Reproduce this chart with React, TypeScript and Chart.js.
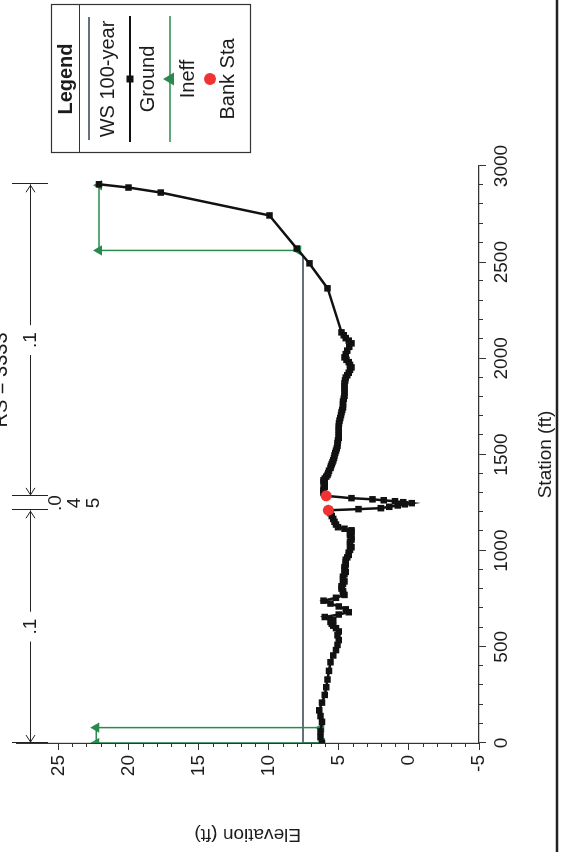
import React, { useEffect, useRef } from 'react';
import { Chart, registerables } from 'chart.js';

Chart.register(...registerables);

// ---------- data ----------
const chartTitle = 'RS = 3333';
const xTitle = 'Station (ft)';
const yTitle = 'Elevation (ft)';
const legendLabels = ['WS 100-year', 'Ground', 'Ineff', 'Bank Sta'];

const stationTicks = [0, 500, 1000, 1500, 2000, 2500, 3000];
const elevTicks = [-5, 0, 5, 10, 15, 20, 25];
const stationMinorStep = 100;
const elevMinorStep = 1;

const groundStation = [
  0, 30, 60, 110, 140, 170, 210, 250, 290, 330, 375, 420, 455, 483,
  510, 535, 560, 580, 597, 610, 620, 630, 640, 655, 668, 680, 695, 710, 725, 740, 755, 770,
  780, 790, 803, 815, 828, 840, 853, 865, 878, 890, 903, 915, 928, 940, 953, 965, 978, 990,
  1004, 1018, 1032, 1045, 1058, 1070, 1080, 1090, 1098, 1106,
  1114, 1122, 1136, 1150, 1165, 1180, 1195, 1210,
  1216, 1221, 1228, 1235, 1241, 1247, 1252, 1257, 1262, 1267, 1273, 1285,
  1292, 1300, 1310, 1320, 1332, 1345, 1355, 1366, 1375, 1385, 1394, 1403,
  1416, 1430, 1440, 1450, 1460, 1470, 1482, 1495, 1508, 1520, 1532, 1545, 1560, 1574, 1587, 1600, 1615, 1630, 1646, 1662,
  1676, 1690, 1705, 1720, 1732, 1745, 1760, 1775, 1790, 1805, 1822, 1840, 1855, 1870, 1885, 1900,
  1912, 1925, 1940, 1953, 1966, 1980, 1992, 2005, 2022, 2040, 2060, 2078, 2092, 2105, 2120, 2135,
  2364, 2494, 2571, 2743, 2862, 2888, 2905,
];
const groundElev = [
  6.2, 6.3, 6.3, 6.2, 6.3, 6.4, 6.2, 6.0, 5.9, 5.8, 5.7, 5.6, 5.4, 5.2,
  5.1, 5.0, 5.1, 5.0, 5.2, 5.4, 5.5, 5.6, 5.4, 6.0, 5.0, 4.3, 4.5, 5.0, 5.6, 6.1, 5.2, 4.6,
  4.7, 4.7, 4.8, 4.8, 4.7, 4.6, 4.7, 4.7, 4.6, 4.5, 4.6, 4.6, 4.5, 4.5, 4.5, 4.4, 4.3, 4.3,
  4.2, 4.1, 4.2, 4.2, 4.1, 4.1, 4.2, 4.2, 4.1, 4.1,
  4.6, 5.05, 5.2, 5.3, 5.4, 5.5, 5.6, 5.75,
  3.6, 2.0, 1.4, 0.8, 0.3, -0.2, 0.4, 1.0, 1.8, 2.6, 4.1, 5.9,
  6.0, 6.1, 6.1, 6.1, 6.0, 6.0, 6.1, 6.1, 6.0, 5.9, 5.8, 5.75,
  5.7, 5.6, 5.55, 5.5, 5.45, 5.4, 5.35, 5.3, 5.25, 5.2, 5.15, 5.1, 5.1, 5.05, 5.0, 5.0, 5.0, 5.0, 5.0, 4.98,
  4.95, 4.9, 4.85, 4.8, 4.75, 4.7, 4.7, 4.7, 4.65, 4.6, 4.6, 4.6, 4.6, 4.6, 4.55, 4.5,
  4.4, 4.3, 4.2, 4.1, 4.2, 4.3, 4.45, 4.6, 4.5, 4.4, 4.25, 4.1, 4.3, 4.5, 4.65, 4.8,
  5.8, 7.1, 8.0, 9.95, 17.7, 20.0, 22.1,
];

const bankStation = [1210, 1285];
const bankElev = [5.75, 5.9];

const wsStation = [0, 0, 2530];
const wsElev = [6.2, 7.55, 7.55];

const ineffStation = [80, 80, 0, 0, null, 2561, 2561, 2900];
const ineffElev = [6.25, 22.3, 22.3, 6.2, null, 7.9, 22.1, 22.1];

const nStations = [0, 1210, 1285, 2905];
const nValues = ['.1', '.045', '.1'];

// ---------- styles ----------
const FONT = '"Liberation Sans", Arial, Helvetica, sans-serif';
const INK = '#1c1c1c';
const WS_COLOR = '#36424f';
const GROUND_COLOR = '#111111';
const INEFF_COLOR = '#2a8a4e';
const BANK_COLOR = '#f03232';

const pts = (xs: (number | null)[], ys: (number | null)[]) =>
  xs.map((x, i) => ({ x, y: ys[i] }));

const decorPlugin = {
  id: 'decor',
  afterDraw(chart: any) {
    const ctx = chart.ctx as CanvasRenderingContext2D;
    const xs = chart.scales.x;
    const ys = chart.scales.y;
    const area = chart.chartArea;
    ctx.save();
    ctx.strokeStyle = '#333';
    ctx.lineWidth = 1;

    // minor ticks
    ctx.beginPath();
    for (let s = stationTicks[0]; s <= stationTicks[stationTicks.length - 1]; s += stationMinorStep) {
      if (stationTicks.includes(s)) continue;
      const p = Math.round(xs.getPixelForValue(s)) + 0.5;
      ctx.moveTo(p, area.bottom);
      ctx.lineTo(p, area.bottom + 4);
    }
    for (let e = elevTicks[0]; e <= elevTicks[elevTicks.length - 1]; e += elevMinorStep) {
      if (elevTicks.includes(e)) continue;
      const p = Math.round(ys.getPixelForValue(e)) + 0.5;
      ctx.moveTo(area.left - 4, p);
      ctx.lineTo(area.left, p);
    }
    ctx.stroke();

    // Manning's n annotation
    const nv = 30;
    ctx.strokeStyle = '#222';
    ctx.fillStyle = INK;
    ctx.font = `19px ${FONT}`;
    ctx.textAlign = 'center';
    ctx.textBaseline = 'middle';
    ctx.beginPath();
    nStations.forEach((s) => {
      const p = Math.round(xs.getPixelForValue(s)) + 0.5;
      ctx.moveTo(p, 12);
      ctx.lineTo(p, 48);
    });
    ctx.stroke();
    for (let i = 0; i < nValues.length; i++) {
      const p0 = xs.getPixelForValue(nStations[i]);
      const p1 = xs.getPixelForValue(nStations[i + 1]);
      const mid = (p0 + p1) / 2;
      const label = nValues[i];
      if (p1 - p0 > 60) {
        const gap = ctx.measureText(label).width / 2 + 7;
        ctx.beginPath();
        ctx.moveTo(p0, nv + 0.5);
        ctx.lineTo(mid - gap, nv + 0.5);
        ctx.moveTo(mid + gap, nv + 0.5);
        ctx.lineTo(p1, nv + 0.5);
        ctx.moveTo(p0 + 8, nv - 4);
        ctx.lineTo(p0 + 1, nv + 0.5);
        ctx.lineTo(p0 + 8, nv + 5);
        ctx.moveTo(p1 - 8, nv - 4);
        ctx.lineTo(p1 - 1, nv + 0.5);
        ctx.lineTo(p1 - 8, nv + 5);
        ctx.stroke();
        ctx.fillText(label, mid, nv + 1);
      } else {
        const lines = [label.slice(0, 2), ...label.slice(2).split('')];
        lines.forEach((t, j) => ctx.fillText(t, mid, 56 + j * 19));
      }
    }

    // title (cut by page edge)
    ctx.font = `20px ${FONT}`;
    ctx.textBaseline = 'alphabetic';
    ctx.fillText(chartTitle, 472, 7);

    // legend
    const L = 699, T = 51, R = 847, B = 250;
    const cx = (L + R) / 2;
    ctx.strokeStyle = '#333';
    ctx.lineWidth = 1.2;
    ctx.strokeRect(L + 0.5, T + 0.5, R - L, B - T);
    ctx.beginPath();
    ctx.moveTo(L, 79.5);
    ctx.lineTo(R, 79.5);
    ctx.stroke();
    ctx.font = `bold 20px ${FONT}`;
    ctx.textBaseline = 'middle';
    ctx.fillText('Legend', cx, 66);

    const lineV = [89, 130, 170, 210];
    const textV = [108, 148, 188, 228];
    // WS
    ctx.strokeStyle = WS_COLOR;
    ctx.lineWidth = 1.5;
    ctx.beginPath();
    ctx.moveTo(L + 13, lineV[0]);
    ctx.lineTo(R - 12, lineV[0]);
    ctx.stroke();
    // Ground
    ctx.strokeStyle = GROUND_COLOR;
    ctx.lineWidth = 2;
    ctx.beginPath();
    ctx.moveTo(L + 11, lineV[1]);
    ctx.lineTo(R - 11, lineV[1]);
    ctx.stroke();
    ctx.fillStyle = GROUND_COLOR;
    ctx.fillRect(cx - 3.5, lineV[1] - 3.5, 7, 7);
    // Ineff
    ctx.strokeStyle = INEFF_COLOR;
    ctx.lineWidth = 1.5;
    ctx.beginPath();
    ctx.moveTo(L + 11, lineV[2]);
    ctx.lineTo(R - 11, lineV[2]);
    ctx.stroke();
    ctx.fillStyle = INEFF_COLOR;
    ctx.beginPath();
    ctx.moveTo(cx, lineV[2] - 7);
    ctx.lineTo(cx + 6.5, lineV[2] + 4);
    ctx.lineTo(cx - 6.5, lineV[2] + 4);
    ctx.closePath();
    ctx.fill();
    // Bank
    ctx.fillStyle = BANK_COLOR;
    ctx.beginPath();
    ctx.arc(cx, lineV[3], 6, 0, Math.PI * 2);
    ctx.fill();

    ctx.fillStyle = INK;
    ctx.font = `20px ${FONT}`;
    legendLabels.forEach((t, i) => ctx.fillText(t, cx, textV[i]));

    // page border of the scan
    ctx.strokeStyle = '#222';
    ctx.lineWidth = 2.5;
    ctx.beginPath();
    ctx.moveTo(0, 557);
    ctx.lineTo(852, 557);
    ctx.stroke();

    ctx.restore();
  },
};

export default function App() {
  const canvasRef = useRef<HTMLCanvasElement | null>(null);

  useEffect(() => {
    if (!canvasRef.current) return;
    const tickFont = { family: FONT, size: 19 };
    const chart = new Chart(canvasRef.current, {
      type: 'scatter',
      data: {
        datasets: [
          {
            label: legendLabels[3],
            data: pts(bankStation, bankElev),
            showLine: false,
            pointStyle: 'circle',
            pointRadius: 5.5,
            backgroundColor: BANK_COLOR,
            borderColor: BANK_COLOR,
            borderWidth: 0,
          },
          {
            label: legendLabels[1],
            data: pts(groundStation, groundElev),
            showLine: true,
            borderColor: GROUND_COLOR,
            borderWidth: 2.5,
            pointStyle: 'rect',
            pointRadius: 4.6,
            backgroundColor: GROUND_COLOR,
            pointBorderWidth: 0,
          },
          {
            label: legendLabels[2],
            data: pts(ineffStation, ineffElev),
            showLine: true,
            spanGaps: false,
            borderColor: INEFF_COLOR,
            borderWidth: 1.5,
            pointStyle: 'triangle',
            pointRadius: 6,
            backgroundColor: INEFF_COLOR,
            pointBorderWidth: 0,
          },
          {
            label: legendLabels[0],
            data: pts(wsStation, wsElev),
            showLine: true,
            borderColor: WS_COLOR,
            borderWidth: 1.5,
            pointRadius: 0,
          },
        ],
      },
      options: {
        responsive: false,
        maintainAspectRatio: false,
        devicePixelRatio: 1,
        animation: false,
        layout: { padding: { top: 10, right: 166, left: 0, bottom: 0 } },
        plugins: {
          legend: { display: false },
          tooltip: { enabled: false },
          title: { display: false },
        },
        scales: {
          x: {
            type: 'linear',
            position: 'bottom',
            min: stationTicks[0],
            max: stationTicks[stationTicks.length - 1],
            afterBuildTicks: (scale: any) => {
              scale.ticks = stationTicks.map((v) => ({ value: v }));
            },
            afterFit: (scale: any) => {
              scale.height = 85;
            },
            ticks: {
              font: tickFont,
              color: INK,
              padding: 4,
              maxRotation: 0,
              autoSkip: false,
              callback: (v: any) => String(v),
            },
            grid: {
              drawOnChartArea: false,
              drawTicks: true,
              tickLength: 7,
              tickColor: '#333',
            },
            border: { display: true, color: '#333', width: 1.2 },
            title: {
              display: true,
              text: xTitle,
              font: { family: FONT, size: 19 },
              color: INK,
              padding: { top: 0, bottom: 7 },
            },
          },
          y: {
            type: 'linear',
            position: 'left',
            min: -5,
            max: 28,
            afterBuildTicks: (scale: any) => {
              scale.ticks = elevTicks.map((v) => ({ value: v }));
            },
            afterFit: (scale: any) => {
              scale.width = 109;
            },
            ticks: {
              font: tickFont,
              color: INK,
              padding: 5,
              autoSkip: false,
              callback: (v: any) => String(v),
            },
            grid: {
              drawOnChartArea: false,
              drawTicks: true,
              tickLength: 7,
              tickColor: '#333',
            },
            border: { display: true, color: '#333', width: 1.2 },
            title: {
              display: true,
              text: yTitle,
              font: { family: FONT, size: 19 },
              color: INK,
              padding: { top: 6, bottom: 0 },
            },
          },
        },
      },
      plugins: [decorPlugin],
    } as any);
    return () => chart.destroy();
  }, []);

  return (
    <div
      style={{
        position: 'fixed',
        left: 0,
        top: 0,
        width: 564,
        height: 852,
        overflow: 'hidden',
        background: '#fff',
      }}
    >
      <div
        style={{
          position: 'absolute',
          left: 0,
          top: 0,
          width: 852,
          height: 564,
          transformOrigin: '0 0',
          transform: 'translate(0px, 852px) rotate(-90deg)',
        }}
      >
        <canvas ref={canvasRef} width={852} height={564} style={{ display: 'block' }} />
      </div>
    </div>
  );
}
